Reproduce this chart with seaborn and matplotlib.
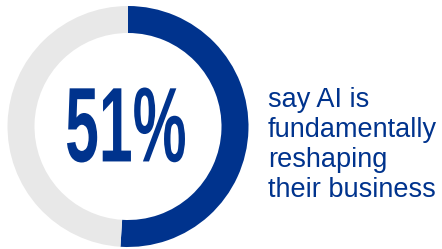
"""
Donut stat chart: share of respondents saying AI reshapes their business
"""
import matplotlib
matplotlib.use('Agg')
import matplotlib.pyplot as plt
import seaborn as sns
from matplotlib.textpath import TextPath
from matplotlib.patches import PathPatch
from matplotlib.font_manager import FontProperties
from matplotlib.transforms import Affine2D

# Data
labels = ['Yes', 'Other']
shares = [51, 49]
headline = '51%'
caption = 'say AI is\nfundamentally\nreshaping\ntheir business'

blue = '#00338D'
grey = '#E8E8E8'

sns.set_theme(style="white")
plt.rcParams['font.family'] = ['Liberation Sans', 'DejaVu Sans']

W, H = 442, 249
fig = plt.figure(figsize=(W / 100, H / 100), dpi=100)
ax = fig.add_axes([0, 0, 1, 1])

ax.pie(shares, colors=[blue, grey], startangle=90, counterclock=False,
       center=(128, 122.5), radius=120.5, frame=True,
       wedgeprops=dict(width=27, linewidth=0))

ax.set_xlim(0, W)
ax.set_ylim(0, H)
ax.set_aspect('equal')
ax.axis('off')

# headline in a condensed bold look: squeeze a bold glyph path into its box
tp = TextPath((0, 0), headline, size=100,
              prop=FontProperties(family='Liberation Sans', weight='bold'))
ext = tp.get_extents()
box_w, box_h = 118, 75
cx, cy = 126, 124
tr = (Affine2D()
      .translate(-(ext.x0 + ext.x1) / 2, -(ext.y0 + ext.y1) / 2)
      .scale(box_w / ext.width, box_h / ext.height)
      .translate(cx, cy))
ax.add_patch(PathPatch(tr.transform_path(tp), facecolor=blue, edgecolor='none'))

ax.text(268, 104, caption, ha='left', va='center', color=blue,
        fontsize=19.5, linespacing=1.2)

plt.savefig('out.png', dpi=100)
plt.close()
